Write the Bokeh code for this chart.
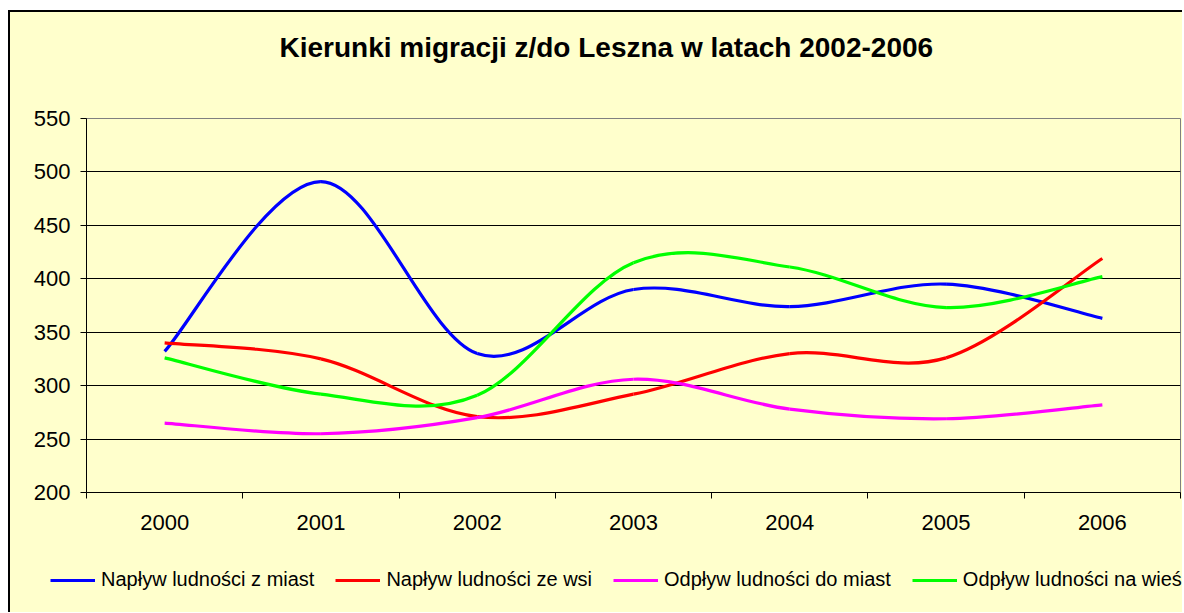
from bokeh.plotting import figure
from bokeh.layouts import column
from bokeh.models import Range1d, FixedTicker, Legend, LegendItem, Title, ColumnDataSource
from bokeh.embed import file_html
from bokeh.resources import INLINE

# ---- data ----
years = ["2000", "2001", "2002", "2003", "2004", "2005", "2006"]
naplyw_z_miast = [332, 491, 330, 390, 374, 395, 363]
naplyw_ze_wsi = [340, 325, 271, 292, 330, 326, 419]
odplyw_do_miast = [265, 255, 270, 306, 278, 269, 282]
odplyw_na_wies = [326, 292, 291, 415, 411, 373, 402]
series_names = ["Napływ ludności z miast", "Napływ ludności ze wsi",
                "Odpływ ludności do miast", "Odpływ ludności na wieś"]
y_ticks = [200, 250, 300, 350, 400, 450, 500, 550]
title_text = "Kierunki migracji z/do Leszna w latach 2002-2006"

series = [naplyw_z_miast, naplyw_ze_wsi, odplyw_do_miast, odplyw_na_wies]
colors = ["#0000FF", "#FF0000", "#FF00FF", "#00FF00"]
FONT = "Liberation Sans"
BG = "#FFFFCC"
LW = 3.2

p = figure(width=1172, height=533, x_range=Range1d(0, len(years)),
           y_range=Range1d(y_ticks[0], y_ticks[-1]),
           output_backend="svg", toolbar_location=None,
           background_fill_color=BG, border_fill_color=BG,
           min_border_left=76, min_border_right=2,
           min_border_top=106, min_border_bottom=53)
p.frame_align = False

# Excel-like smoothed line: cubic Bezier segments built from the data points
def bezier_source(vals):
    xs = [i + 0.5 for i in range(len(vals))]
    n = len(vals)
    d = dict(x0=[], y0=[], x1=[], y1=[], cx0=[], cy0=[], cx1=[], cy1=[])
    for i in range(n - 1):
        ip = max(i - 1, 0)
        inn = min(i + 2, n - 1)
        d["x0"].append(xs[i]); d["y0"].append(vals[i])
        d["x1"].append(xs[i + 1]); d["y1"].append(vals[i + 1])
        d["cx0"].append(xs[i] + (xs[i + 1] - xs[ip]) / 6)
        d["cy0"].append(vals[i] + (vals[i + 1] - vals[ip]) / 6)
        d["cx1"].append(xs[i + 1] - (xs[inn] - xs[i]) / 6)
        d["cy1"].append(vals[i + 1] - (vals[inn] - vals[i]) / 6)
    return ColumnDataSource(d)

for vals, col in zip(series, colors):
    p.bezier(x0="x0", y0="y0", x1="x1", y1="y1", cx0="cx0", cy0="cy0",
             cx1="cx1", cy1="cy1", source=bezier_source(vals),
             line_color=col, line_width=LW)

# axes
p.yaxis.ticker = FixedTicker(ticks=y_ticks)
p.yaxis.major_tick_out = 6
p.yaxis.major_tick_in = 0
p.yaxis.minor_tick_out = 0
p.yaxis.axis_line_color = "#000000"
p.yaxis.major_tick_line_color = "#000000"
p.yaxis.major_label_text_font = FONT
p.yaxis.major_label_text_font_size = "22px"
p.yaxis.major_label_text_color = "#000000"
p.yaxis.major_label_standoff = 10

centers = [i + 0.5 for i in range(len(years))]
p.xaxis.ticker = FixedTicker(ticks=centers, minor_ticks=list(range(len(years) + 1)))
p.xaxis.major_label_overrides = {c: y for c, y in zip(centers, years)}
p.xaxis.major_tick_out = 0
p.xaxis.major_tick_in = 0
p.xaxis.minor_tick_out = 6
p.xaxis.minor_tick_in = 0
p.xaxis.minor_tick_line_color = "#000000"
p.xaxis.axis_line_color = "#000000"
p.xaxis.major_label_text_font = FONT
p.xaxis.major_label_text_font_size = "22px"
p.xaxis.major_label_text_color = "#000000"
p.xaxis.major_label_standoff = 16

p.xgrid.grid_line_color = None
p.ygrid.grid_line_color = "#000000"
p.ygrid.grid_line_width = 1
p.outline_line_color = "#808080"
p.outline_line_width = 1

# spacer between frame and title, then the title (above list stacks outward)
p.add_layout(Title(text=" ", text_font=FONT, text_font_size="22px", standoff=28), "above")
p.add_layout(Title(text=title_text, align="left", offset=193, standoff=0,
                   vertical_align="middle",
                   text_font=FONT, text_font_size="28px", text_font_style="bold",
                   text_color="#000000"), "above")

# legend strip below the chart (same series; lines fall outside this strip's range)
pl = figure(width=1172, height=67, x_range=Range1d(0, 1), y_range=Range1d(0, 1),
            output_backend="svg", toolbar_location=None,
            x_axis_type=None, y_axis_type=None,
            background_fill_color=BG, border_fill_color=BG,
            min_border=0, outline_line_color=None)
pl.frame_align = False
pl.xgrid.visible = False
pl.ygrid.visible = False
items = []
for name, vals, col in zip(series_names, series, colors):
    r = pl.line(x=centers, y=vals, line_color=col, line_width=LW)
    items.append(LegendItem(label=name, renderers=[r]))
legend = Legend(items=items, orientation="horizontal", location=(40, 21),
                glyph_width=45, glyph_height=20, label_standoff=6, spacing=21,
                padding=0, margin=0, border_line_color=None,
                background_fill_alpha=0,
                label_text_font=FONT, label_text_font_size="20px",
                label_text_color="#000000")
pl.add_layout(legend)

layout = column(p, pl, spacing=0)
layout.styles = {"border-left": "2px solid #000000", "border-top": "2px solid #000000",
                 "margin-top": "10px", "margin-left": "8px",
                 "background-color": BG}

open("out.html", "w").write(file_html(layout, INLINE))
